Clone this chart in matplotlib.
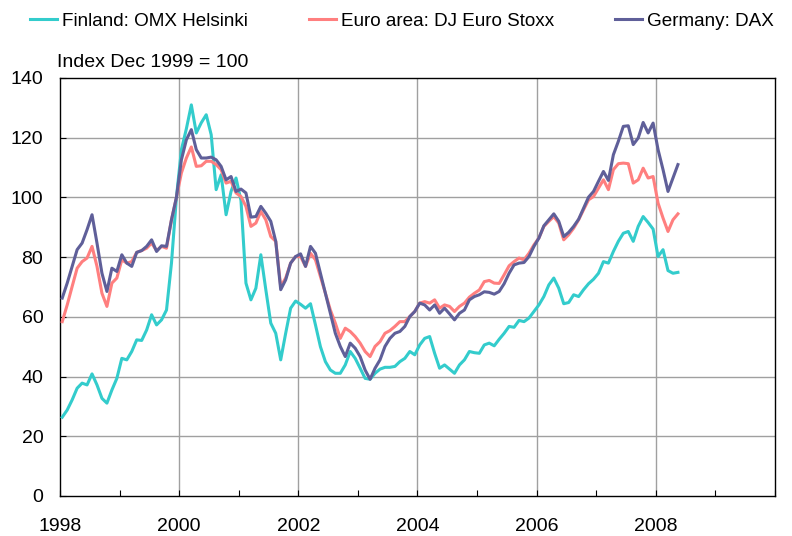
import numpy as np
import matplotlib
matplotlib.use("Agg")
import matplotlib.pyplot as plt

plt.rcParams['font.family'] = ['Liberation Sans', 'DejaVu Sans']

# Monthly index values, Jan 1998 - May 2008 (Dec 1999 = 100)
finland = [26.4, 28.8, 32.2, 36.1, 37.8, 37.2, 40.9, 37.2, 32.7, 31.1, 35.5, 39.4,
           46.1, 45.6, 48.4, 52.3, 52.1, 55.6, 60.7, 57.3, 59.0, 62.3, 78.0, 100.0,
           116.0, 123.0, 131.0, 121.6, 125.0, 127.7, 121.0, 102.6, 107.6, 94.2, 102.0, 106.5,
           99.0, 71.3, 65.7, 69.6, 80.8, 69.1, 57.9, 54.5, 45.6, 54.5, 62.9, 65.3,
           64.2, 62.9, 64.4, 57.3, 50.0, 45.0, 42.2, 41.1, 41.1, 43.9, 48.4, 46.1,
           42.8, 39.4, 39.1, 41.1, 42.5, 43.1, 43.1, 43.4, 45.0, 46.1, 48.4, 47.3,
           50.6, 52.8, 53.4, 47.8, 42.8, 43.9, 42.5, 41.1, 43.9, 45.6, 48.4, 48.0,
           47.8, 50.6, 51.2, 50.3, 52.5, 54.5, 56.8, 56.5, 58.8, 58.4, 59.6, 61.8,
           64.0, 66.8, 70.7, 73.0, 69.6, 64.4, 64.8, 67.4, 66.8, 69.1, 71.1, 72.6,
           74.6, 78.5, 78.0, 81.9, 85.3, 88.0, 88.6, 85.3, 90.3, 93.6, 91.6, 89.4,
           80.2, 82.5, 75.5, 74.6, 74.9]

euro_area = [58.4, 64.0, 70.2, 76.3, 78.5, 79.7, 83.6, 76.9, 67.9, 63.5, 71.3, 73.0,
             79.1, 78.0, 78.5, 81.6, 82.2, 83.0, 84.7, 82.2, 83.6, 83.0, 92.5, 100.0,
             108.2, 113.2, 116.9, 110.4, 110.6, 112.1, 112.1, 111.0, 109.3, 104.8, 105.4, 101.5,
             100.3, 97.0, 90.3, 91.4, 95.3, 92.5, 86.9, 85.3, 70.2, 73.0, 78.0, 80.2,
             80.2, 76.9, 81.3, 79.1, 73.5, 67.9, 62.3, 57.9, 52.8, 56.2, 55.1, 53.4,
             51.2, 48.4, 46.7, 50.1, 51.7, 54.5, 55.4, 56.8, 58.4, 58.4, 60.1, 61.8,
             64.6, 65.1, 64.6, 65.7, 62.9, 64.0, 63.5, 61.8, 63.5, 64.6, 66.6, 67.9,
             69.0, 71.8, 72.2, 71.3, 71.2, 74.1, 77.1, 78.5, 79.7, 79.1, 81.3, 84.1,
             86.4, 90.3, 92.0, 93.6, 91.4, 85.8, 87.5, 89.7, 92.5, 95.9, 99.2, 100.3,
             103.1, 105.9, 102.6, 109.3, 111.3, 111.5, 111.3, 104.8, 105.9, 109.8, 106.5, 107.0,
             98.1, 93.1, 88.6, 92.5, 94.5]

germany = [66.3, 71.3, 76.9, 82.5, 84.7, 89.2, 94.2, 84.7, 74.6, 68.5, 76.3, 75.2,
           80.8, 78.0, 76.9, 81.6, 82.2, 83.6, 85.8, 81.9, 83.8, 83.6, 92.5, 100.0,
           112.6, 119.3, 122.7, 116.0, 113.2, 113.2, 113.5, 112.6, 110.4, 105.9, 107.0, 102.0,
           102.8, 101.5, 93.4, 93.6, 97.0, 94.7, 92.0, 85.3, 69.1, 72.4, 78.0, 80.2,
           81.1, 76.9, 83.6, 81.3, 74.6, 67.9, 61.2, 54.5, 50.1, 46.7, 51.2, 49.5,
           46.7, 42.2, 39.1, 42.8, 45.6, 50.1, 52.8, 54.5, 55.1, 56.8, 60.1, 61.8,
           64.6, 64.0, 62.3, 64.0, 61.2, 62.9, 61.0, 59.0, 61.2, 62.3, 65.7, 66.8,
           67.4, 68.4, 68.2, 67.6, 68.5, 71.1, 74.6, 77.4, 78.0, 78.2, 80.2, 83.6,
           86.4, 90.5, 92.5, 94.5, 92.0, 86.9, 88.3, 90.3, 92.7, 96.4, 100.1, 102.0,
           105.4, 108.7, 105.7, 114.3, 118.8, 123.8, 124.0, 117.7, 119.9, 125.1, 121.6, 124.9,
           116.0, 109.3, 102.0, 106.5, 111.0]

series_labels = ["Finland: OMX Helsinki", "Euro area: DJ Euro Stoxx", "Germany: DAX"]
series_colors = ["#33CCCC", "#FF7F7F", "#5F5F99"]
start_year = 1998
year_labels = ["1998", "", "2000", "", "2002", "", "2004", "", "2006", "", "2008", "", ""]
y_ticks = [0, 20, 40, 60, 80, 100, 120, 140]

n = len(finland)
t = start_year + (np.arange(n) + 0.45) / 12.0

W, H = 792, 536
fig = plt.figure(figsize=(W / 100, H / 100), dpi=100)
ax = fig.add_axes([60 / W, 1 - 496 / H, 715 / W, 418 / H])

lines = []
for vals, lab, col in zip([finland, euro_area, germany], series_labels, series_colors):
    ln, = ax.plot(t, vals, color=col, lw=2.2, label=lab, solid_joinstyle='round', zorder=3)
    lines.append(ln)

ax.set_xlim(1998, 2010)
ax.set_ylim(0, 140)
years = np.arange(1998, 2011)
ax.set_xticks(years)
ax.set_xticklabels(year_labels)
ax.set_yticks(y_ticks)

# grid lines
for y in y_ticks[1:-1]:
    ax.axhline(y, color="#a0a0a0", lw=1.0, zorder=1)
for x in range(2000, 2010, 2):
    ax.axvline(x, color="#a0a0a0", lw=1.0, zorder=1)

for s in ax.spines.values():
    s.set_color("black")
    s.set_linewidth(1.0)

fs = 14
ax.tick_params(axis='x', direction='in', length=4, width=0.8, pad=16, labelsize=fs, colors='black')
ax.tick_params(axis='y', direction='in', length=4, width=0.8, pad=12, labelsize=fs, colors='black')

lfs = 13.6
fpx = lfs * 100 / 72
fig.legend(handles=lines, labels=series_labels, loc='center left',
           bbox_to_anchor=(30 / W, 1 - 21 / H), ncol=3, frameon=False,
           fontsize=lfs, handlelength=27 / fpx, handletextpad=5 / fpx,
           columnspacing=61 / fpx, borderpad=0, borderaxespad=0)

fig.text(57 / W, 1 - 62 / H, "Index Dec 1999 = 100", fontsize=fs, va='center', ha='left')

fig.savefig("out.png", dpi=100)
